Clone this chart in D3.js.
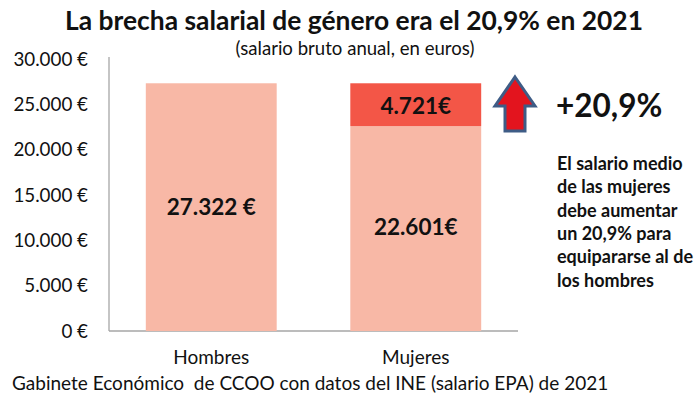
<!DOCTYPE html>
<html><head><meta charset="utf-8">
<script src="https://cdn.jsdelivr.net/npm/d3@7"></script>
<style>body{margin:0;background:#fff}svg{display:block}text{font-family:Lato,"Open Sans",sans-serif;white-space:pre}</style>
</head><body>
<svg id="c" width="700" height="399"></svg>
<script>
const categories = ["Hombres", "Mujeres"];
const baseValues = [27322, 22601];
const gapValues = [0, 4721];
const baseLabels = ["27.322 €", "22.601€"];
const gapLabels = ["", "4.721€"];
const yTicks = [0, 5000, 10000, 15000, 20000, 25000, 30000];
const title = "La brecha salarial de género era el 20,9% en 2021";
const subtitle = "(salario bruto anual, en euros)";
const source = "Gabinete Económico  de CCOO con datos del INE (salario EPA) de 2021";
const bigNote = "+20,9%";
const noteLines = ["El salario medio", "de las mujeres", "debe aumentar", "un 20,9% para", "equipararse al de", "los hombres"];

const svg = d3.select("#c");
const x = d3.scaleBand().domain(categories).range([109, 518]).paddingInner(0.36).paddingOuter(0.18);
const y = d3.scaleLinear().domain([0, 30000]).range([331, 59]);

svg.append("text").attr("x", 354).attr("y", 30).attr("text-anchor", "middle")
  .attr("font-weight", "bold").attr("font-size", 26.4).attr("fill", "#111").text(title);
svg.append("text").attr("x", 355).attr("y", 55).attr("text-anchor", "middle")
  .attr("font-size", 18.6).attr("fill", "#111").text(subtitle);

// axes
const ya = svg.append("g").attr("transform", "translate(109,0)")
  .call(d3.axisLeft(y).tickValues(yTicks).tickSize(0).tickPadding(21)
    .tickFormat(d => d3.format(",")(d).replace(/,/g, ".") + " €"));
ya.select(".domain").attr("stroke", "#a6a6a6").attr("stroke-width", 1.3).attr("d", "M0,57V331");
ya.selectAll("text").attr("font-size", 18.8).attr("fill", "#111").attr("font-family", "Lato, sans-serif");

svg.append("line").attr("x1", 109).attr("x2", 518).attr("y1", 331).attr("y2", 331)
  .attr("stroke", "#a6a6a6").attr("stroke-width", 1.3);

// bars
svg.selectAll("rect.base").data(categories).join("rect").attr("class", "base")
  .attr("x", d => x(d)).attr("width", x.bandwidth())
  .attr("y", (d, i) => y(baseValues[i])).attr("height", (d, i) => y(0) - y(baseValues[i]))
  .attr("fill", "#f8b8a6");
svg.selectAll("rect.gap").data(categories).join("rect").attr("class", "gap")
  .attr("x", d => x(d)).attr("width", x.bandwidth())
  .attr("y", (d, i) => y(baseValues[i] + gapValues[i]))
  .attr("height", (d, i) => y(baseValues[i]) - y(baseValues[i] + gapValues[i]))
  .attr("fill", "#f35647");

svg.selectAll("text.bl").data(categories).join("text").attr("class", "bl")
  .attr("x", d => x(d) + x.bandwidth() / 2)
  .attr("y", (d, i) => i === 0 ? y(baseValues[i] / 2) + 8 : y(baseValues[i] / 2) + 6)
  .attr("text-anchor", "middle").attr("font-weight", "bold").attr("font-size", 22.5).attr("fill", "#111")
  .text((d, i) => baseLabels[i]);
svg.selectAll("text.gl").data(categories).join("text").attr("class", "gl")
  .attr("x", d => x(d) + x.bandwidth() / 2)
  .attr("y", (d, i) => y(baseValues[i] + gapValues[i] / 2) + 9)
  .attr("text-anchor", "middle").attr("font-weight", "bold").attr("font-size", 22.5).attr("fill", "#111")
  .text((d, i) => gapLabels[i]);

svg.selectAll("text.cat").data(categories).join("text").attr("class", "cat")
  .attr("x", d => x(d) + x.bandwidth() / 2).attr("y", 364)
  .attr("text-anchor", "middle").attr("font-size", 19).attr("fill", "#111").text(d => d);

svg.append("text").attr("x", 12).attr("y", 390).attr("font-size", 19).attr("fill", "#111").text(source);

// arrow
const ax = 515;
const arrowPts = [[ax, 77], [ax + 20, 106], [ax + 10, 106], [ax + 10, 131], [ax - 10, 131], [ax - 10, 106], [ax - 20, 106]];
svg.append("path").attr("d", d3.line()(arrowPts) + "Z")
  .attr("fill", "#e3141e").attr("stroke", "#3e5c86").attr("stroke-width", 3).attr("stroke-linejoin", "miter");

svg.append("text").attr("x", 556).attr("y", 117).attr("font-weight", "bold").attr("font-size", 31.5)
  .attr("fill", "#111").text(bigNote);
svg.append("g").selectAll("text").data(noteLines).join("text")
  .attr("x", 557).attr("y", (d, i) => 170 + i * 23.3)
  .attr("font-weight", "bold").attr("font-size", 18).attr("fill", "#111").text(d => d);
</script>
</body></html>
